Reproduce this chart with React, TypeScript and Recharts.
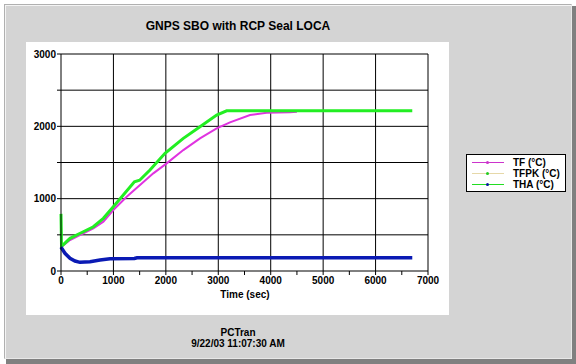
import React from 'react';
import { LineChart, Line, XAxis, YAxis, CartesianGrid } from 'recharts';

const tfTime = [0, 172, 425, 617, 808, 998, 1253, 1507, 1761, 2015, 2333, 2651, 2969, 3223, 3605, 3923, 4368, 4500];
const tfValue = [330, 428, 521, 590, 682, 843, 1027, 1189, 1350, 1488, 1672, 1834, 1972, 2055, 2156, 2188, 2196, 2200];

const tfpkTime = [0, 10, 172, 425, 617, 808, 998, 1188, 1400, 1500, 1697, 1984, 2333, 2651, 2969, 3160, 6700];
const tfpkValue = [790, 340, 452, 543, 612, 728, 889, 1050, 1234, 1255, 1396, 1627, 1834, 1994, 2156, 2215, 2215];

const thaTime = [0, 76, 172, 267, 362, 553, 744, 935, 1400, 1450, 6700];
const thaValue = [330, 245, 175, 138, 120, 129, 152, 170, 172, 182, 182];

const xTicks = [0, 500, 1000, 1500, 2000, 2500, 3000, 3500, 4000, 4500, 5000, 5500, 6000, 6500, 7000];
const yTicks = [0, 500, 1000, 1500, 2000, 2500, 3000];
const xGrid = [1000, 2000, 3000, 4000, 5000, 6000, 7000];
const yGrid = [500, 1000, 1500, 2000, 2500, 3000];

const seriesNames = ['TF (°C)', 'TFPK (°C)', 'THA (°C)'];
const title = 'GNPS SBO with RCP Seal LOCA';
const xLabel = 'Time (sec)';
const footer1 = 'PCTran';
const footer2 = '9/22/03 11:07:30 AM';

const zip = (ts: number[], vs: number[]) => ts.map((t, i) => ({ t, v: vs[i] }));
const tfData = zip(tfTime, tfValue);
const tfpkData = zip(tfpkTime, tfpkValue);
const thaData = zip(thaTime, thaValue);

const FONT = '"Liberation Sans", Arial, sans-serif';
const fmt = (v: number) => (v % 1000 === 0 ? String(v) : '');

const legendItems = [
  { name: seriesNames[0], line: '#cc33cc', dot: '#cc33cc' },
  { name: seriesNames[1], line: '#e6d8a8', dot: '#22cc22' },
  { name: seriesNames[2], line: '#22dd22', dot: '#0a1aa0' },
];

export default function App() {
  const txt: React.CSSProperties = {
    position: 'absolute',
    fontFamily: FONT,
    fontWeight: 'bold',
    color: '#000',
    whiteSpace: 'nowrap',
  };
  return (
    <div style={{ position: 'absolute', left: 0, top: 0, width: 576, height: 364, background: '#ffffff', overflow: 'hidden' }}>
      <div style={{ position: 'absolute', left: 6, top: 6, width: 570, height: 358, background: '#808080' }} />
      <div
        style={{
          position: 'absolute',
          left: 4,
          top: 4,
          width: 566,
          height: 353,
          background: '#d4d4d4',
          borderLeft: '1px solid #b0b0b0',
          borderTop: '1px solid #b0b0b0',
          borderRight: '1px solid #e8e8e8',
          borderBottom: '1px solid #e8e8e8',
          boxShadow: 'inset 1px 1px 0 #f4f4f4',
        }}
      />
      <div style={{ position: 'absolute', left: 26, top: 42, width: 423, height: 273, background: '#ffffff' }} />
      <div style={{ ...txt, left: 0, width: 476, top: 19, textAlign: 'center', fontSize: 12 }}>{title}</div>
      <div style={{ position: 'absolute', left: 0, top: 0 }}>
        <LineChart width={576} height={364} margin={{ top: 54, right: 148, bottom: 63, left: 0 }}>
          <CartesianGrid
            stroke="#000"
            strokeWidth={1}
            horizontalValues={yGrid}
            verticalValues={xGrid}
          />
          <XAxis
            dataKey="t"
            type="number"
            domain={[0, 7000]}
            ticks={xTicks}
            tickFormatter={fmt}
            interval={0}
            allowDuplicatedCategory={false}
            height={30}
            tickSize={4}
            tickMargin={2}
            axisLine={{ stroke: '#000' }}
            tickLine={{ stroke: '#000' }}
            tick={{ fill: '#000', fontSize: 10, fontWeight: 'bold', fontFamily: FONT }}
          />
          <YAxis
            type="number"
            domain={[0, 3000]}
            ticks={yTicks}
            tickFormatter={fmt}
            interval={0}
            width={61}
            tickSize={4}
            tickMargin={1}
            axisLine={{ stroke: '#000' }}
            tickLine={{ stroke: '#000' }}
            tick={{ fill: '#000', fontSize: 10, fontWeight: 'bold', fontFamily: FONT }}
          />
          <Line data={tfData} dataKey="v" type="linear" stroke="#e033e0" strokeWidth={2} dot={false} isAnimationActive={false} />
          <Line data={tfpkData} dataKey="v" type="linear" stroke="#22ee22" strokeWidth={3} dot={false} isAnimationActive={false} />
          <Line data={thaData} dataKey="v" type="linear" stroke="#0a1ab4" strokeWidth={3.5} dot={false} isAnimationActive={false} />
        </LineChart>
      </div>
      <div style={{ ...txt, left: 245 - 60, width: 120, top: 289, textAlign: 'center', fontSize: 10 }}>{xLabel}</div>
      <div style={{ ...txt, left: 0, width: 476, top: 327, textAlign: 'center', fontSize: 10, lineHeight: '11px' }}>
        {footer1}
        <br />
        {footer2}
      </div>
      <div
        style={{
          position: 'absolute',
          left: 466,
          top: 154,
          width: 98,
          height: 36,
          background: '#ffffff',
          border: '1px solid #000',
        }}
      >
        {legendItems.map((it, i) => (
          <div key={it.name} style={{ position: 'absolute', left: 0, top: 2 + i * 11, width: 98, height: 11 }}>
            <div style={{ position: 'absolute', left: 5, top: 5, width: 32, height: 1, background: it.line }} />
            <div style={{ position: 'absolute', left: 19, top: 4, width: 3, height: 3, borderRadius: 2, background: it.dot }} />
            <div style={{ ...txt, left: 46, top: 0, fontSize: 10, lineHeight: '11px' }}>{it.name}</div>
          </div>
        ))}
      </div>
    </div>
  );
}
